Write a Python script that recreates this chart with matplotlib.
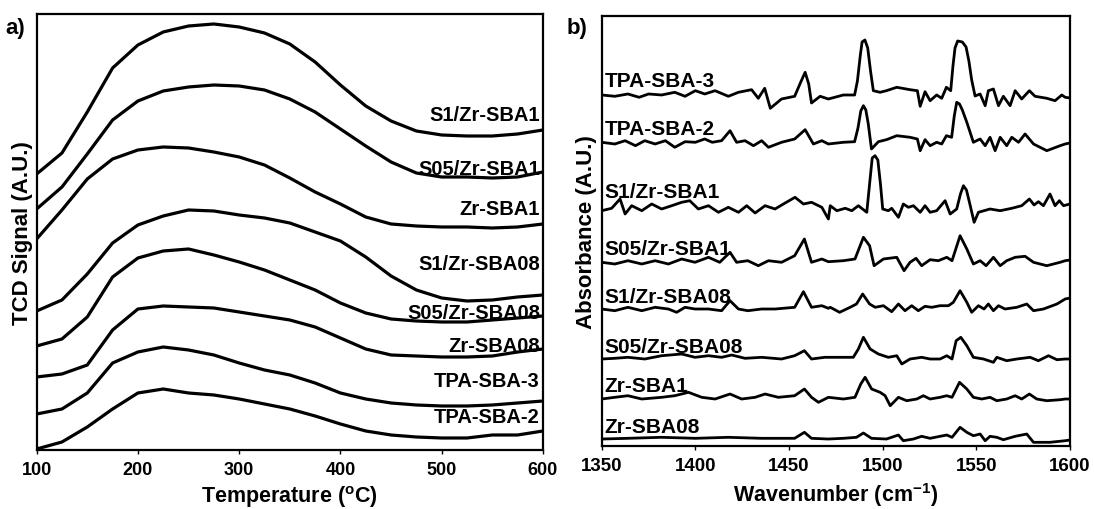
import numpy as np
import matplotlib
matplotlib.use("Agg")
import matplotlib.pyplot as plt

plt.rcParams['font.family'] = ['Liberation Sans', 'DejaVu Sans']
plt.rcParams['font.weight'] = 'bold'
plt.rcParams['mathtext.fontset'] = 'custom'
plt.rcParams['mathtext.rm'] = 'Liberation Sans'
plt.rcParams['mathtext.bf'] = 'Liberation Sans:bold'

# ---- a) TPD profiles, signal in arbitrary units ----
temp = [100, 125, 150, 175, 200, 225, 250, 275, 300, 325, 350,
        375, 400, 425, 450, 475, 500, 525, 550, 575, 600]
tpd_names = ["S1/Zr-SBA1", "S05/Zr-SBA1", "Zr-SBA1", "S1/Zr-SBA08",
             "S05/Zr-SBA08", "Zr-SBA08", "TPA-SBA-3", "TPA-SBA-2"]
s1_zr_sba1 = [276, 297, 338, 382, 405, 418, 424, 426, 423, 417, 406,
              388, 365, 344, 329, 319, 315, 314, 314, 316, 320]
s05_zr_sba1 = [241, 263, 296, 330, 349, 359, 363, 365, 364, 360, 351,
               338, 321, 304, 288, 277, 273, 273, 272, 273, 278]
zr_sba1 = [211, 240, 271, 291, 300, 303, 302, 298, 293, 285, 272,
           258, 246, 233, 226, 224, 223, 223, 222, 223, 226]
s1_zr_sba08 = [139, 150, 176, 207, 225, 234, 240, 239, 235, 232, 227,
               218, 209, 193, 174, 160, 152, 149, 150, 153, 155]
s05_zr_sba08 = [104, 111, 133, 173, 192, 199, 201, 195, 188, 180, 170,
                160, 147, 137, 131, 129, 128, 128, 130, 132, 134]
zr_sba08 = [73, 76, 85, 120, 141, 144, 143, 142, 138, 134, 130,
            123, 112, 101, 95, 94, 93, 93, 94, 98, 101]
tpa_sba3 = [36, 41, 57, 87, 98, 103, 100, 95, 87, 80, 75,
            67, 57, 51, 47, 45, 44, 44, 45, 47, 49]
tpa_sba2 = [1, 8, 23, 41, 57, 61, 57, 55, 51, 46, 41,
            34, 26, 19, 15, 13, 12, 12, 15, 15, 19]
tpd_label_y = [335, 281, 241, 186, 137, 104, 69, 33]

# ---- b) IR spectra, absorbance in arbitrary units ----
ir_names = ["TPA-SBA-3", "TPA-SBA-2", "S1/Zr-SBA1", "S05/Zr-SBA1",
            "S1/Zr-SBA08", "S05/Zr-SBA08", "Zr-SBA1", "Zr-SBA08"]
w_tpa3 = [1350, 1357, 1364, 1370, 1375, 1382, 1389, 1394.5, 1400, 1405, 1410.5,
          1417.6, 1423, 1430, 1433.6, 1437, 1440, 1446, 1453, 1456.5, 1458.6,
          1460.5, 1462, 1466.6, 1471, 1479, 1485, 1486.5, 1488, 1489, 1490.5,
          1492, 1493.5, 1495, 1498.6, 1502, 1507.5, 1514.6, 1518.5, 1520, 1522.6,
          1525.3, 1528.8, 1531.5, 1534, 1536.3, 1537.5, 1538.6, 1540, 1542.5,
          1544.5, 1546, 1547.5, 1549.3, 1552, 1554.7, 1556.4, 1559.1, 1561.8,
          1564.4, 1568, 1570.7, 1574.2, 1578.3, 1581.3, 1587.6, 1592, 1595.6,
          1597.4, 1600]
a_tpa3 = [351, 349.7, 352, 348.7, 352, 351, 353.7, 349.7, 355.3, 352, 355.3,
          349.7, 353.7, 356.3, 347.7, 357.7, 337.7, 347, 349.7, 365, 373.7,
          362, 343, 349.7, 347, 351, 351, 365, 390, 404, 406,
          398, 375, 355.3, 353.7, 355.3, 358.7, 356.3, 355.3, 339.7, 354.3,
          345.3, 351, 347.7, 358.7, 355.3, 380, 398, 405, 404,
          399, 385, 366, 350, 352, 340.3, 355.3, 357, 340.3,
          349.7, 340.3, 355.3, 347, 355.3, 349.7, 347.7, 345.3, 351,
          348.7, 348]
w_tpa2 = [1350, 1357, 1362.5, 1368, 1373, 1378.5, 1384, 1389, 1394.5, 1400, 1405,
          1409, 1414, 1418.5, 1422, 1426.5, 1431, 1435.4, 1439, 1446, 1453,
          1458.6, 1463, 1467.5, 1471, 1479, 1485, 1486.8, 1488.3, 1489.7, 1491,
          1492.3, 1494, 1497.7, 1502, 1507.5, 1514.6, 1518.5, 1520, 1522.6,
          1525.3, 1528.8, 1531.5, 1534, 1536.8, 1538.2, 1539.5, 1541, 1542.5,
          1544.9, 1548.4, 1552, 1554.7, 1557.3, 1560, 1562.7, 1566.2, 1568.9,
          1572.5, 1576, 1580.5, 1587.6, 1594.7, 1597.4, 1600]
a_tpa2 = [303.7, 302, 305.3, 300.3, 305.3, 302, 305.3, 298.7, 304.3, 303.7, 307,
          303.7, 305.3, 315.3, 303.7, 305.3, 300.3, 305.3, 298.7, 303.7, 307,
          316.3, 302, 305.3, 302, 303.7, 304.3, 318, 335, 340.3, 336,
          322, 297, 304.3, 306.3, 310.3, 308.7, 307, 295.3, 306.3,
          300.3, 303.7, 302, 310.3, 308.7, 330, 343.7, 342, 336,
          323.7, 303.7, 307, 300.3, 308.7, 295.3, 308.7, 300.3, 308.7,
          303.7, 312, 302, 295.3, 300.3, 302, 303]
w_s1_1 = [1350, 1355.3, 1359.8, 1362.5, 1366, 1371.4, 1376.7, 1382, 1387.4, 1392.7,
          1397, 1401.6, 1407, 1412.3, 1417.6, 1423, 1427.4, 1431.9, 1437.2, 1442.5,
          1447, 1453.2, 1457.7, 1462, 1467.5, 1471, 1472, 1475.5, 1480, 1483.5,
          1487, 1491.5, 1493, 1494.4, 1495.9, 1497.4, 1498.8, 1500, 1503, 1504.8,
          1508.4, 1511, 1513.7, 1516.4, 1520, 1522.6, 1525.3, 1528.8, 1533.3, 1536,
          1539.5, 1541.5, 1543.1, 1544.7, 1546.3, 1548.8, 1551.1, 1557.3, 1562.7,
          1568.9, 1574.2, 1578.3, 1580.8, 1583.1, 1585.8, 1589.3, 1592, 1594.3,
          1596.5, 1600]
a_s1_1 = [235.3, 237.7, 247, 232, 240.3, 235.3, 242, 237, 240.3, 243.7,
          245.3, 237, 240.3, 233.7, 238.7, 233.7, 240.3, 233, 240.3, 237,
          242, 248.7, 242, 243.7, 238.7, 227, 240.3, 235.3, 237.7, 235.3,
          240.3, 233.7, 262, 288, 290.3, 286, 262, 237, 235.3, 237.7,
          228.7, 242, 238.7, 240.3, 233.7, 240.3, 233.7, 235.3, 245.3, 232,
          237, 252, 260.3, 256, 243.7, 223.7, 233.7, 237, 235.3,
          237.7, 240.3, 247, 241, 244.3, 240.3, 252, 240.3, 245.3,
          240.3, 242]
w_s05_1 = [1350, 1357, 1364, 1371.4, 1378.5, 1385.6, 1392.7, 1399.8, 1407, 1413,
           1418.5, 1422, 1428, 1433.6, 1439, 1446, 1453, 1458.2, 1462, 1467.5,
           1471, 1479, 1485.2, 1489.7, 1493, 1495.4, 1500.4, 1507.5, 1511.4,
           1514.6, 1517.8, 1520.8, 1525.3, 1529.7, 1534.2, 1537, 1541.3, 1544.9,
           1548.4, 1552, 1555.2, 1559.1, 1562.7, 1566.2, 1570.7, 1576, 1580.5,
           1587.6, 1594.7, 1597.4, 1600]
a_s05_1 = [183.7, 182, 185.3, 182, 185.3, 182, 187, 183.7, 188.7, 183.7,
           193.7, 183.7, 185.3, 180.3, 185.3, 183.7, 190.3, 207, 183.7, 187,
           184.3, 185.3, 187, 208.7, 200.3, 180.3, 187, 188.7, 175.3,
           183.7, 187.7, 180.3, 186.3, 185.3, 188.7, 185.3, 210.3, 197,
           182, 185.3, 180.3, 188.7, 180.3, 185.3, 188.7, 189.7, 183.7,
           180.3, 183.7, 185.3, 186]
w_s1_08 = [1350, 1357, 1364, 1371.4, 1378.5, 1385.6, 1390, 1394.5, 1399.8, 1407,
           1414, 1418.5, 1423, 1428, 1435.4, 1442.5, 1453, 1457.7, 1462, 1467.5,
           1471, 1472, 1477, 1482.6, 1486, 1489.3, 1493, 1496, 1500.4, 1504.8,
           1508.4, 1511.9, 1515.5, 1519, 1522.6, 1526.2, 1530.6, 1535.1, 1537.7,
           1541.3, 1544.9, 1547.5, 1551.1, 1554.1, 1556.4, 1559.1, 1561.8,
           1565.3, 1571.6, 1576.9, 1580.5, 1585.8, 1593, 1597.4, 1600]
a_s1_08 = [137, 135.3, 138.7, 135.3, 138.7, 137, 133.7, 138.7, 137, 137,
           135.3, 145.3, 137, 135.3, 137, 137, 138.7, 154.3, 138.7, 140.3,
           137.7, 138.7, 133.7, 138.7, 142, 152, 142, 138.7, 140.3, 134.3,
           142, 135.3, 140.3, 135.3, 139.7, 138.7, 140.3, 140.3, 143.7,
           155.3, 143.7, 133.7, 140.3, 137, 142, 135.3, 140.3,
           137, 138.7, 142, 135.3, 137, 142, 147, 148]
w_s05_08 = [1350, 1357, 1364, 1373, 1382, 1392.7, 1399.8, 1407, 1414, 1419.4,
            1426.5, 1435.4, 1446, 1453, 1458.2, 1462, 1469, 1477, 1484.3, 1487,
            1489.7, 1493.3, 1497.7, 1503, 1507.5, 1510.2, 1514.6, 1520.8, 1525.3,
            1530.6, 1534.2, 1537, 1539.2, 1541.7, 1544.9, 1548.4, 1553.8, 1559.1,
            1560.9, 1566.2, 1571.6, 1578.7, 1583.1, 1588.5, 1593, 1597.4, 1600]
a_s05_08 = [87, 87.7, 88.7, 87, 90.3, 92, 88.7, 90.3, 88.7, 91,
            87.7, 88.7, 87, 90.3, 95.3, 87, 88.7, 88.7, 88.7, 97,
            108.7, 97, 92, 88.7, 90.3, 82, 87, 88.7, 87,
            87, 90.3, 87, 105.3, 108.7, 100.3, 88.7, 87, 83.7,
            88.7, 85.3, 87, 88.7, 85.3, 90.3, 86.3, 87, 87]
w_zr_1 = [1350, 1357, 1364, 1371.4, 1382, 1389, 1396.3, 1403.4, 1410.5, 1418.5,
          1424.7, 1431.9, 1437.2, 1444.3, 1453, 1458.2, 1462, 1465.7, 1471, 1479,
          1485.2, 1488.3, 1490.6, 1494.1, 1498.6, 1501.3, 1504, 1508.4, 1512.8,
          1518.2, 1521.7, 1525.3, 1530.6, 1534.2, 1537, 1541, 1544.9, 1548.4,
          1552.9, 1557.3, 1560.9, 1566.2, 1570.7, 1574.2, 1578.3, 1582.2, 1587.6,
          1594.7, 1597.4, 1600]
a_zr_1 = [47, 48.7, 50.3, 47, 48.7, 50.3, 53.7, 48.7, 47, 52,
          47, 48.7, 52, 48.7, 50.3, 57, 48.7, 43.7, 48.7, 47,
          48.7, 62, 68.7, 57, 53.7, 50.3, 40.3, 48.7, 45.3,
          47, 50.3, 47, 48.7, 50.3, 48.7, 63.7, 57, 48.7,
          47, 48.7, 45.3, 47, 50.3, 47, 52, 47, 45.3,
          46.3, 47, 47]
w_zr_08 = [1350, 1364, 1382, 1400, 1417.6, 1435.4, 1453, 1458.2, 1462, 1471,
           1479, 1486, 1489.7, 1494, 1502, 1508.4, 1511, 1516.4, 1520.8, 1525.3,
           1530.6, 1534.2, 1537, 1541.3, 1544.9, 1548.4, 1552, 1554.7, 1557.3,
           1560.9, 1564.4, 1570.7, 1576.9, 1580.5, 1589.3, 1597.4, 1600]
a_zr_08 = [7, 7.7, 8.7, 7.7, 8.7, 7.7, 7.7, 13.7, 7.7, 7,
           7.7, 8.7, 13, 7.7, 7, 11, 5.3, 7, 9.7, 7.7,
           9.7, 11, 8.7, 18.7, 13.7, 10.3, 12, 5.3, 9.7,
           8.7, 6.3, 9.7, 12, 3.7, 3.7, 5.3, 6]
ir_label_y = [365, 317, 254, 198, 150, 100, 61, 20]

tpd_series = [s1_zr_sba1, s05_zr_sba1, zr_sba1, s1_zr_sba08,
              s05_zr_sba08, zr_sba08, tpa_sba3, tpa_sba2]
ir_series = [(w_tpa3, a_tpa3), (w_tpa2, a_tpa2), (w_s1_1, a_s1_1),
             (w_s05_1, a_s05_1), (w_s1_08, a_s1_08), (w_s05_08, a_s05_08),
             (w_zr_1, a_zr_1), (w_zr_08, a_zr_08)]

fig = plt.figure(figsize=(10.94, 5.10), dpi=100)
ax1 = fig.add_axes([0.0335, 0.1157, 0.4628, 0.8549])
ax2 = fig.add_axes([0.5500, 0.1235, 0.4281, 0.8432])

for ax in (ax1, ax2):
    for sp in ax.spines.values():
        sp.set_linewidth(1.6)
    ax.tick_params(axis='x', direction='out', length=3, width=1,
                   pad=5, labelsize=13)
    ax.tick_params(axis='y', left=False, labelleft=False)

# panel a
for y, name, ly in zip(tpd_series, tpd_names, tpd_label_y):
    ax1.plot(temp, y, color='black', lw=2.3, solid_joinstyle='round')
    ax1.text(597, ly, name, ha='right', va='center', fontsize=14.5,
             fontweight='bold')
ax1.set_xlim(100, 600)
ax1.set_ylim(0, 436)
ax1.set_xticks([100, 200, 300, 400, 500, 600])
ax1.set_xlabel(r'Temperature ($\mathbf{^{o}}$C)', fontsize=15.5,
               fontweight='bold', labelpad=4)
ax1.set_ylabel('TCD Signal (A.U.)', fontsize=16, fontweight='bold')
ax1.yaxis.set_label_coords(-0.007, 0.5)

# panel b
for (w, a), name, ly in zip(ir_series, ir_names, ir_label_y):
    ax2.plot(w, a, color='black', lw=2.0, solid_joinstyle='round')
    ax2.text(1351.5, ly, name, ha='left', va='center', fontsize=15,
             fontweight='bold')
ax2.set_xlim(1350, 1600)
ax2.set_ylim(0, 430)
ax2.set_xticks([1350, 1400, 1450, 1500, 1550, 1600])
ax2.tick_params(axis='x', labelsize=13.5)
ax2.set_xlabel(r'Wavenumber (cm$\mathbf{^{-1}}$)', fontsize=15.5,
               fontweight='bold', labelpad=4)
ax2.set_ylabel('Absorbance (A.U.)', fontsize=16, fontweight='bold')
ax2.yaxis.set_label_coords(-0.010, 0.5)

fig.text(0.005, 0.965, 'a)', fontsize=16, fontweight='bold', va='top')
fig.text(0.518, 0.965, 'b)', fontsize=16, fontweight='bold', va='top')

fig.savefig('out.png', dpi=100)
